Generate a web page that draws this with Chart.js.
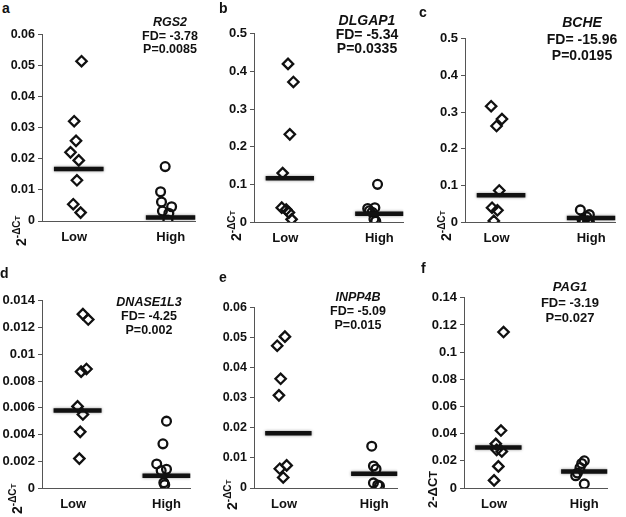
<!DOCTYPE html>
<html>
<head>
<meta charset="utf-8">
<script src="https://cdn.jsdelivr.net/npm/chart.js@4.4.1/dist/chart.umd.min.js"></script>
<style>
  body { margin: 0; background: #fff; }
  #fig { position: relative; width: 626px; height: 517px; overflow: hidden; font-family: "Liberation Sans", Arial, sans-serif; color: #111; }
  .panel { position: absolute; }
  .letter { position: absolute; font-weight: bold; font-size: 14px; line-height: 16px; }
  .note { position: absolute; width: 150px; text-align: center; font-weight: bold; white-space: nowrap; }
  .note i { font-style: italic; }
  .ytitle { position: absolute; font-weight: bold; font-size: 14px; line-height: 14px; white-space: nowrap; transform: rotate(-90deg); transform-origin: 0 0; }
  .ytitle sup { font-size: 10px; }
  .ytitle sup span { font-size: 8px; }
</style>
</head>
<body>
<div id="fig"></div>
<script>
// valores
const categories = ['Low', 'High'];
const panelLetters = ['a', 'b', 'c', 'd', 'e', 'f'];
const genes = ['RGS2', 'DLGAP1', 'BCHE', 'DNASE1L3', 'INPP4B', 'PAG1'];
const foldDiff = ['-3.78', '-5.34', '-15.96', '-4.25', '-5.09', '-3.19'];
const pValues = ['0.0085', '0.0335', '0.0195', '0.002', '0.015', '0.027'];
const yMax = [0.06, 0.5, 0.5, 0.014, 0.06, 0.14];
const yStep = [0.01, 0.1, 0.1, 0.002, 0.01, 0.02];

const lowValues = [
    [0.0514, 0.0321, 0.0258, 0.0221, 0.0195, 0.0131, 0.0054, 0.0027],
    [0.42, 0.372, 0.233, 0.130, 0.038, 0.033, 0.025, 0.007],
    [0.316, 0.281, 0.262, 0.086, 0.039, 0.032, 0.003],
    [0.0130, 0.0126, 0.0087, 0.0089, 0.0061, 0.0055, 0.0042, 0.0022],
    [0.0503, 0.0473, 0.0363, 0.0308, 0.0075, 0.0064, 0.0035],
    [0.1148, 0.0423, 0.0325, 0.0281, 0.0269, 0.0159, 0.0056]
];
const lowJitter = [
    [0.03, -0.05, -0.03, -0.09, 0, -0.02, -0.06, 0.02],
    [-0.02, 0.04, 0, -0.08, -0.09, -0.04, -0.01, 0.02],
    [-0.11, 0.01, -0.05, -0.02, -0.10, -0.04, -0.08],
    [0.06, 0.12, 0.04, 0.10, 0, 0.06, 0.03, 0.02],
    [-0.04, -0.13, -0.09, -0.11, -0.02, -0.10, -0.06],
    [0.06, 0.03, -0.03, -0.02, 0.04, 0, -0.05]
];
const highValues = [
    [0.0175, 0.0094, 0.0061, 0.0046, 0.0032, 0.0025, 0.0003],
    [0.100, 0.038, 0.036, 0.030, 0.026, 0.008, 0.002],
    [0.033, 0.020, 0.014, 0.006, 0.003, 0.002, 0.001],
    [0.0050, 0.0033, 0.0018, 0.0013, 0.0014, 0.0004, 0.00025],
    [0.0139, 0.0073, 0.0063, 0.0017, 0.0010, 0.0007],
    [0.020, 0.018, 0.015, 0.011, 0.009, 0.003]
];
const highJitter = [
    [-0.06, -0.11, -0.10, 0.01, -0.09, -0.02, -0.03],
    [-0.02, -0.05, -0.13, -0.11, -0.08, -0.06, -0.04],
    [-0.12, -0.02, -0.05, -0.10, -0.04, -0.08, -0.02],
    [0, -0.04, -0.11, -0.06, 0, -0.03, -0.02],
    [-0.03, -0.01, 0.02, -0.01, 0.04, 0.06],
    [0, -0.03, -0.05, -0.08, -0.10, 0]
];
const lowMedian = [0.0167, 0.116, 0.073, 0.0058, 0.0182, 0.0298];
const highMedian = [0.0011, 0.022, 0.011, 0.00092, 0.0047, 0.0122];

// posição de cada painel na figura
const layout = [
    { axisX: 42,  top: 34,  zero: 221, right: 200, tick: 12.5, note: { x: 170, y: 16,  size: 12.5, lh: 13.5 }, letter: { x: 2,   y: 0 },   yt: { x: 17,  y: 246 } },
    { axisX: 254, top: 33,  zero: 222, right: 408, tick: 13,   note: { x: 367, y: 13,  size: 14,   lh: 14 },   letter: { x: 219, y: 0 },   yt: { x: 232, y: 241 } },
    { axisX: 465, top: 38,  zero: 222, right: 620, tick: 13,   note: { x: 582, y: 14,  size: 14,   lh: 16.5 }, letter: { x: 419, y: 4 },   yt: { x: 442, y: 241 } },
    { axisX: 42,  top: 300, zero: 488, right: 195, tick: 13,   note: { x: 149, y: 295, size: 12.5, lh: 14 },   letter: { x: 0,   y: 265 }, yt: { x: 13,  y: 514 } },
    { axisX: 254, top: 307, zero: 488, right: 402, tick: 12.5, note: { x: 358, y: 290, size: 12.5, lh: 14 },   letter: { x: 219, y: 269 }, yt: { x: 228, y: 510 } },
    { axisX: 464, top: 297, zero: 488, right: 612, tick: 13,   note: { x: 570, y: 279, size: 13,   lh: 15.5 }, letter: { x: 421, y: 260 }, yt: { x: 433, y: 508 } }
];

const fig = document.getElementById('fig');
const fontFamily = '"Liberation Sans", Arial, sans-serif';
const halfLine = 0.27;

// sombra suave nas linhas da mediana
const medianShadow = {
    id: 'medianShadow',
    beforeDatasetDraw(chart, args) {
        if (args.meta.type !== 'line') return;
        chart.ctx.save();
        chart.ctx.shadowColor = 'rgba(0,0,0,0.45)';
        chart.ctx.shadowBlur = 3;
    },
    afterDatasetDraw(chart, args) {
        if (args.meta.type !== 'line') return;
        chart.ctx.restore();
    }
};

function addDiv(cls, html, css) {
    const d = document.createElement('div');
    d.className = cls;
    d.innerHTML = html;
    Object.assign(d.style, css);
    fig.appendChild(d);
    return d;
}

function buildPanel(i) {
    const L = layout[i];
    const w = L.right - L.axisX + 42 + 3;
    const h = L.zero - L.top + 10 + 30;

    const canvas = document.createElement('canvas');
    canvas.width = w;
    canvas.height = h;
    canvas.className = 'panel';
    canvas.style.left = (L.axisX - 42) + 'px';
    canvas.style.top = (L.top - 10) + 'px';
    canvas.style.width = w + 'px';
    canvas.style.height = h + 'px';
    fig.appendChild(canvas);

    const medianLine = (cat, val) => ({
        type: 'line',
        data: [{ x: cat - halfLine, y: val }, { x: cat + halfLine, y: val }],
        borderColor: '#111',
        borderWidth: 4.5,
        pointRadius: 0,
        order: 0
    });

    new Chart(canvas, {
        type: 'scatter',
        data: {
            datasets: [
                medianLine(1, lowMedian[i]),
                medianLine(2, highMedian[i]),
                {
                    label: categories[0],
                    data: lowValues[i].map((v, k) => ({ x: 1 + lowJitter[i][k], y: v })),
                    pointStyle: 'rectRot',
                    pointRadius: 5.2,
                    borderWidth: 2.3,
                    borderColor: '#111',
                    backgroundColor: 'rgba(0,0,0,0)',
                    order: 1
                },
                {
                    label: categories[1],
                    data: highValues[i].map((v, k) => ({ x: 2 + highJitter[i][k], y: v })),
                    pointStyle: 'circle',
                    pointRadius: 4.4,
                    borderWidth: 2.3,
                    borderColor: '#111',
                    backgroundColor: 'rgba(0,0,0,0)',
                    order: 1
                }
            ]
        },
        plugins: [medianShadow],
        options: {
            responsive: false,
            animation: false,
            layout: { padding: { top: 10, right: 3, left: 0, bottom: 0 } },
            plugins: { legend: { display: false }, tooltip: { enabled: false } },
            scales: {
                x: {
                    type: 'linear',
                    min: 0.6,
                    max: 2.27,
                    afterFit: s => { s.height = 30; },
                    afterBuildTicks: s => { s.ticks = [{ value: 0.95 }, { value: 2 }]; },
                    ticks: {
                        autoSkip: false,
                        maxRotation: 0,
                        padding: 9,
                        color: '#111',
                        font: { family: fontFamily, size: 13, weight: 'bold' },
                        callback: (v, idx) => categories[idx]
                    },
                    grid: { display: false, drawTicks: false },
                    border: { color: '#555', width: 1 }
                },
                y: {
                    min: 0,
                    max: yMax[i],
                    afterFit: s => { s.width = 42; },
                    ticks: {
                        stepSize: yStep[i],
                        padding: 3,
                        color: '#111',
                        font: { family: fontFamily, size: L.tick, weight: 'bold' },
                        callback: v => String(parseFloat(v.toFixed(6)))
                    },
                    grid: { drawOnChartArea: false, tickLength: 4, color: '#555' },
                    border: { color: '#555', width: 1 }
                }
            }
        }
    });

    // letra do painel e anotações
    addDiv('letter', panelLetters[i], { left: L.letter.x + 'px', top: L.letter.y + 'px' });
    addDiv('note',
        '<i>' + genes[i] + '</i><br>FD= ' + foldDiff[i] + '<br>P=' + pValues[i],
        { left: (L.note.x - 75) + 'px', top: L.note.y + 'px', fontSize: L.note.size + 'px', lineHeight: L.note.lh + 'px' });
    const yLabel = i === 5 ? '2-ΔC<span style="font-size:11px">T</span>' : '2<sup>-ΔC<span>T</span></sup>';
    addDiv('ytitle', yLabel, { left: (L.yt.x - 7) + 'px', top: L.yt.y + 'px', fontSize: i === 5 ? '13px' : '' });
}

for (let i = 0; i < 6; i++) buildPanel(i);
</script>
</body>
</html>
